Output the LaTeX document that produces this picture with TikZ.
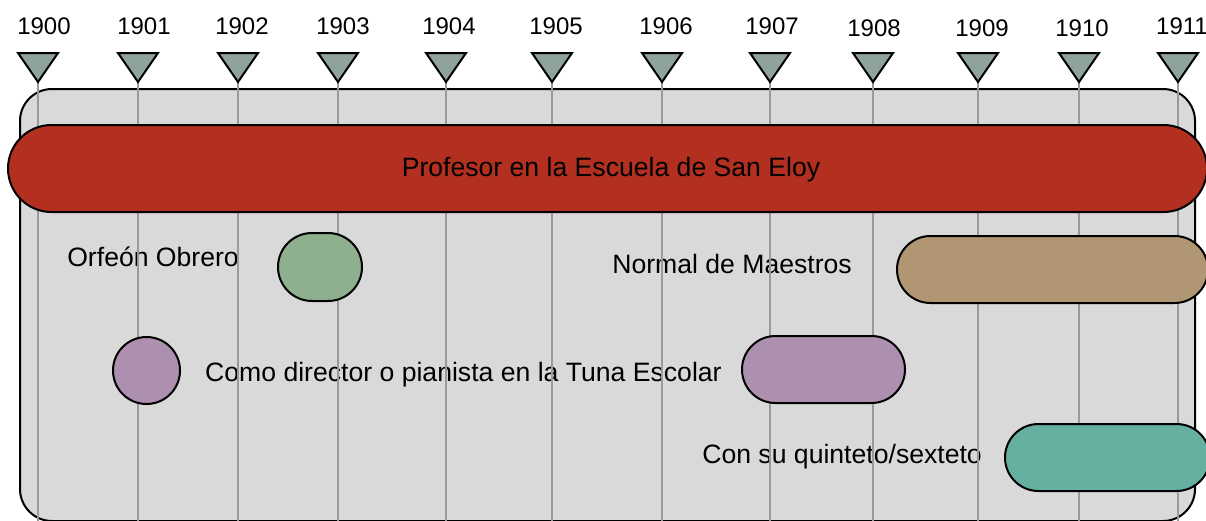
\documentclass[tikz,border=0pt]{standalone}
\usepackage{fontspec}
\setmainfont{Liberation Sans}
\usetikzlibrary{positioning}
\definecolor{tlFrame}{HTML}{D9D9D9}
\definecolor{tlGrid}{HTML}{999999}
\definecolor{tlTick}{HTML}{8FA39E}
\definecolor{tlRed}{HTML}{B33020}
\definecolor{tlGreen}{HTML}{8FB08F}
\definecolor{tlTan}{HTML}{B09672}
\definecolor{tlPurple}{HTML}{AD90B0}
\definecolor{tlTeal}{HTML}{66B0A2}
\tikzset{
  tl frame/.style={
    rectangle,
    draw=black,
    line width=2pt,
    fill=tlFrame,
    rounded corners=32pt,
    inner sep=0pt,
  },
}
\tikzset{
  tl grid/.style={
    draw=tlGrid,
    line width=2.4pt,
  },
}
\tikzset{
  tl tick/.style={
    draw=black,
    line width=2pt,
    fill=tlTick,
    line join=miter,
  },
}
\tikzset{
  tl year/.style={
    font=\fontsize{24}{28}\selectfont,
    anchor=base,
    inner sep=0pt,
  },
}
\tikzset{
  tl bar/.style={
    rectangle,
    draw=black,
    line width=2pt,
    minimum height=67pt,
    rounded corners=33.5pt,
    inner sep=0pt,
  },
}
\tikzset{
  tl label/.style={
    font=\fontsize{26.6}{31}\selectfont,
    inner sep=0pt,
  },
}
\tikzset{
  tl figure/.style={
    x=1pt,
    y=-1pt,
  },
}

\begin{document}
\begin{tikzpicture}[tl figure]
  \useasboundingbox (0,0) rectangle (1206,520);

  % =========================================================================
  % Gray frame behind the timeline
  % =========================================================================
  \node[tl frame, minimum width=1175pt, minimum height=432pt]
    (frame) at (607.5, 305) {};

  % =========================================================================
  % Activity labels (below the grid lines)
  % =========================================================================
  \node[tl label, anchor=base east] (orfeonLbl)   at (239, 266) {Orfeón Obrero};
  \node[tl label, anchor=base east] (normalLbl)   at (852, 273) {Normal de Maestros};
  \node[tl label, anchor=base west] (tunaLbl)     at (205, 381) {Como director o pianista en la Tuna Escolar};
  \node[tl label, anchor=base east] (quintetoLbl) at (982, 463) {Con su quinteto/sexteto};

  % =========================================================================
  % Year ticks: tick x / label x / label baseline / year
  % =========================================================================
  \foreach \tx/\lx/\ly/\yr in {38/44/34/1900, 138/144/34/1901, 238/242/34/1902,
      338/343/34/1903, 446/449/34/1904, 552/556/34/1905, 662/666/34/1906,
      770/772/34/1907, 873/874/36/1908, 978/982/36/1909, 1079/1082/36/1910,
      1178/1182/34/1911} {
    \coordinate (tick\yr) at (\tx, 82);
    \draw[tl grid] (tick\yr) -- (tick\yr |- frame.south);
    \draw[tl tick] (\tx-20, 53) -- (\tx+20, 53) -- (tick\yr) -- cycle;
    \node[tl year] (year\yr) at (\lx, \ly) {\yr};
  }

  % =========================================================================
  % Activity bars
  % =========================================================================
  \node[tl bar, fill=tlRed, minimum width=1199pt, minimum height=87pt,
    rounded corners=43.5pt] (sanEloy) at (607.5, 168.5) {};
  \node[tl label, anchor=base] (sanEloyLbl) at (611, 176)
    {Profesor en la Escuela de San Eloy};

  \node[tl bar, fill=tlGreen, minimum width=84pt, minimum height=68pt,
    rounded corners=34pt] (orfeon) at (320, 267) {};
  \node[tl bar, fill=tlTan, minimum width=311pt] (normal) at (1052.5, 269.5) {};
  \node[tl bar, fill=tlPurple, minimum width=67pt] (tunaA) at (146.5, 370.5) {};
  \node[tl bar, fill=tlPurple, minimum width=163pt] (tunaB) at (823.5, 369.5) {};
  \node[tl bar, fill=tlTeal, minimum width=205pt] (quinteto) at (1107.5, 457.5) {};

\end{tikzpicture}
\end{document}
